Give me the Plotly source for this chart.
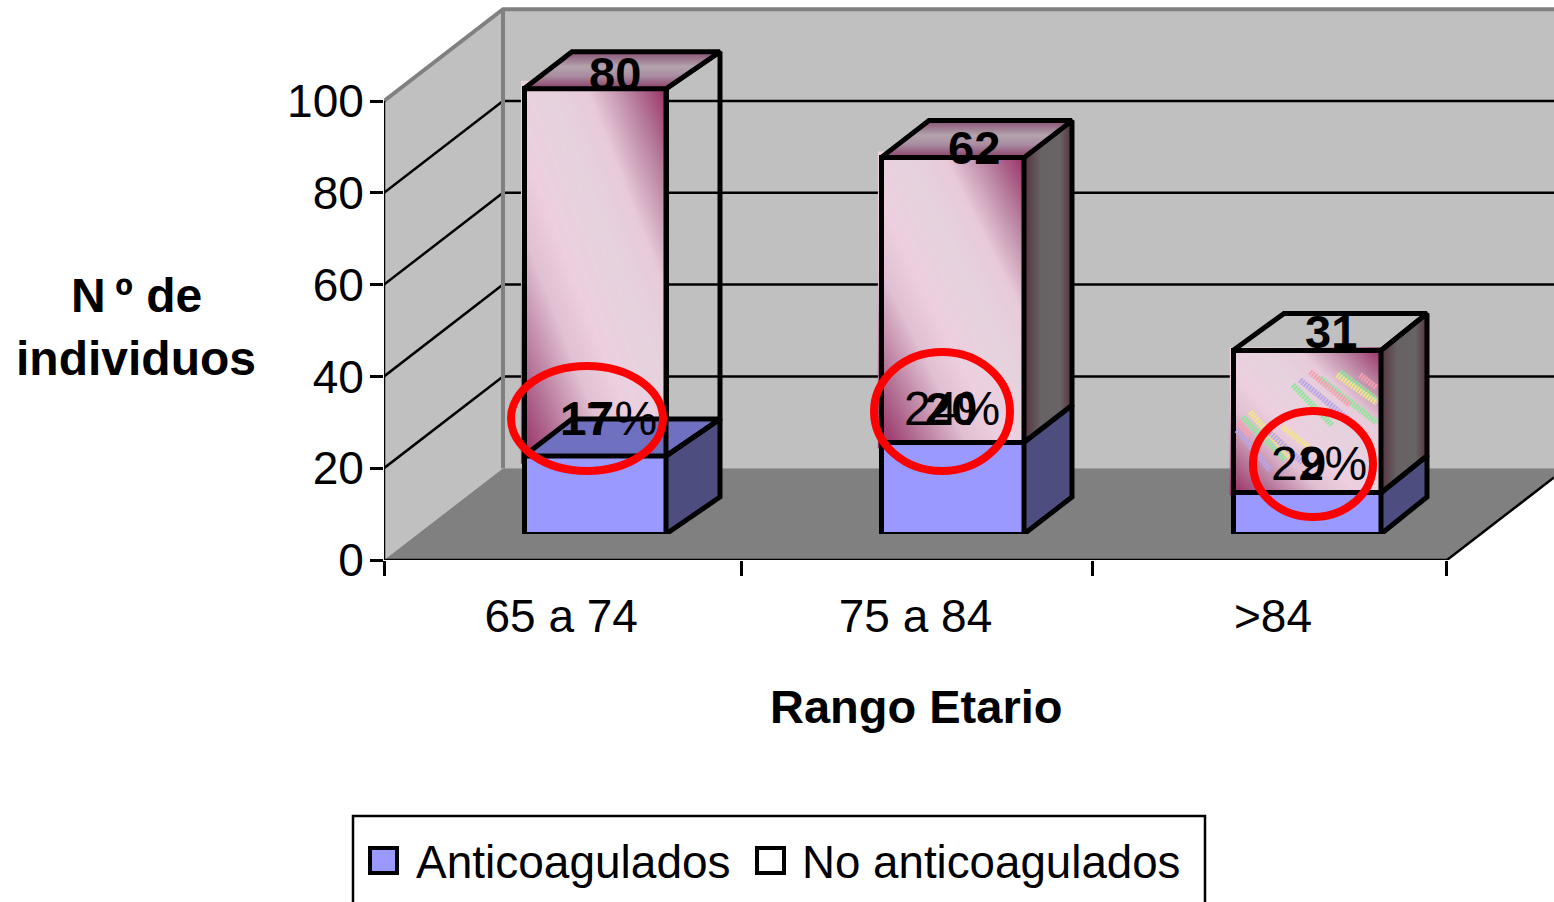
import plotly.graph_objects as go

# ---- data ----
categories = ["65 a 74", "75 a 84", ">84"]
anticoagulados = [17, 20, 9]
no_anticoagulados = [80, 62, 31]
percent_labels = ["17%", "24%", "22%"]
series_names = ["Anticoagulados", "No anticoagulados"]
y_ticks = [0, 20, 40, 60, 80, 100]
x_title = "Rango Etario"
y_title_lines = ["N\u2009º de", "individuos"]

# ---- geometry / style ----
W, H = 1554, 902
PX_X, PX_Y = 354.33, 4.59            # pixels per category / per value unit
X0, Y0 = 384, 560                    # pixel position of the axes origin
BX0, BY0 = 418, 534                  # pixel position of the origin of the plane holding the bars
WALL_DX, WALL_DY = 119 / PX_X, 20.0  # depth of the walls, in axis units
BAR_DY = 37 / PX_Y
bar_left_px = [524, 881, 1233]
bar_right_px = [666, 1024, 1381]
depth_left_px = [48, 48, 51]
depth_right_px = [54, 48, 46]
tick_edges = [0, 1.008, 2.0, 3.0]
label_positions = [0.5, 1.5, 2.509]
FONT = "Liberation Sans, Arial, sans-serif"
FS = 46
BLACK = "#000000"
BAR_LW = 5
GRID_LW = 2.5


def bx(px):
    return (px - BX0) / PX_X


def by(py):
    return (BY0 - py) / PX_Y


def mx(px):
    return (px - X0) / PX_X


def my(py):
    return (Y0 - py) / PX_Y


x_end = (W - X0) / PX_X
y_end = Y0 / PX_Y

fig = go.Figure()


def poly(xs, ys, axes="main", fill=None, line=None, lw=BAR_LW, gradient=None, name=None):
    kw = dict(x=list(xs) + [xs[0]], y=list(ys) + [ys[0]], mode="lines", showlegend=False,
              hoverinfo="skip", cliponaxis=True, name=name,
              xaxis="x" if axes == "main" else "x2", yaxis="y" if axes == "main" else "y2",
              line=dict(color=line if line else "rgba(0,0,0,0)", width=lw if line else 0))
    if gradient or fill:
        kw["fill"] = "toself"
    if fill:
        kw["fillcolor"] = fill
    if gradient:
        kw["fillgradient"] = gradient
    fig.add_trace(go.Scatter(**kw))


def seg(xs, ys, color=BLACK, lw=GRID_LW, axes="main", dash=None):
    fig.add_trace(go.Scatter(x=xs, y=ys, mode="lines", showlegend=False, hoverinfo="skip",
                             cliponaxis=False if axes == "main" else True,
                             xaxis="x" if axes == "main" else "x2", yaxis="y" if axes == "main" else "y2",
                             line=dict(color=color, width=lw, dash=dash)))


# ---- walls and floor ----
WALL = "#C0C0C0"
EDGE = "#808080"
poly([0, 0, WALL_DX, WALL_DX], [0, 100, 100 + WALL_DY, WALL_DY], fill=WALL)
poly([WALL_DX, x_end, x_end, WALL_DX], [WALL_DY, WALL_DY, 100 + WALL_DY, 100 + WALL_DY], fill=WALL)
poly([0, 3, 3 + WALL_DX, WALL_DX], [0, 0, WALL_DY, WALL_DY], fill=EDGE)

for v in y_ticks[1:-1]:
    seg([0, WALL_DX], [v, v + WALL_DY])
for v in y_ticks[1:-1]:
    seg([WALL_DX, x_end], [v + WALL_DY, v + WALL_DY])
seg([0, WALL_DX, x_end], [100, 100 + WALL_DY, 100 + WALL_DY], color=EDGE, lw=4)
seg([WALL_DX, WALL_DX], [WALL_DY, 100 + WALL_DY], color=EDGE, lw=4)
seg([0, 0], [0, 100])
seg([0, 3], [0, 0])
seg([3, x_end], [0, (x_end - 3) / WALL_DX * WALL_DY])

# ---- gradient of the front faces ----
front_scale = [[0, "#9A2F66"], [0.12, "#B06A90"], [0.3, "#E0C0D2"], [0.42, "#EDCFDF"],
               [0.58, "#E6D2DE"], [0.72, "#E8CBDB"], [0.87, "#B87F9E"], [1, "#9A2F66"]]
N = 24
for i in range(3):
    xl, xr = bx(bar_left_px[i]), bx(bar_right_px[i])
    lo, hi = anticoagulados[i], anticoagulados[i] + no_anticoagulados[i]
    gx = [xl + (xr - xl) * k / (N - 1) for k in range(N)]
    gy = [lo + (hi - lo) * k / (N - 1) for k in range(N)]
    gz = [[(a + b) / (2 * (N - 1)) for a in range(N)] for b in range(N)]
    fig.add_trace(go.Heatmap(x=gx, y=gy, z=gz, zsmooth="best", colorscale=front_scale, zmin=0, zmax=1,
                             showscale=False, hoverinfo="skip", xaxis="x2", yaxis="y2"))

# ---- stacked bars (front faces) ----
centers = [bx((l + r) / 2) for l, r in zip(bar_left_px, bar_right_px)]
widths = [(r - l) / PX_X for l, r in zip(bar_left_px, bar_right_px)]
fig.add_trace(go.Bar(x=centers, y=anticoagulados, width=widths, name=series_names[0], xaxis="x2", yaxis="y2",
                     marker=dict(color="#9999FF", line=dict(color=BLACK, width=BAR_LW)), hoverinfo="skip"))
fig.add_trace(go.Bar(x=centers, y=no_anticoagulados, width=widths, name=series_names[1], xaxis="x2", yaxis="y2",
                     marker=dict(color="rgba(0,0,0,0)", line=dict(color=BLACK, width=BAR_LW)), hoverinfo="skip"))

# ---- stray coloured streaks on the third bar ----
streaks = {
    "#8FE59A": [(1320, 378, 1377, 423), (1293, 385, 1332, 425), (1243, 417, 1285, 460), (1340, 372, 1377, 400)],
    "#F0E68C": [(1337, 375, 1377, 403), (1250, 412, 1293, 460), (1283, 427, 1308, 447)],
    "#B9A5E8": [(1300, 380, 1353, 423), (1237, 430, 1270, 470), (1270, 433, 1303, 463)],
    "#F4A0B0": [(1360, 375, 1377, 388), (1310, 372, 1350, 405), (1238, 422, 1250, 436)],
}
for col, items in streaks.items():
    sx, sy = [], []
    for a, b, c, d in items:
        sx += [bx(a), bx(c), None]
        sy += [by(b), by(d), None]
    fig.add_trace(go.Scatter(x=sx, y=sy, mode="lines", showlegend=False, hoverinfo="skip", xaxis="x2", yaxis="y2",
                             line=dict(color=col, width=6, dash="2px,1px")))

# ---- 3D faces ----
BLUE_SIDE = "#4D4D80"
BLUE_TOP = "#7070C0"
side_dark = dict(type="horizontal", colorscale=[[0, "#55333F"], [0.35, "#676264"], [0.75, "#686465"], [1, "#54303F"]])
top_grad = dict(type="vertical", colorscale=[[0, "#8A3E68"], [0.35, "#A98CA0"], [0.6, "#B3A3AD"], [1, "#874F73"]])
for i in range(3):
    xl, xr = bx(bar_left_px[i]), bx(bar_right_px[i])
    dl, dr = depth_left_px[i] / PX_X, depth_right_px[i] / PX_X
    lo = anticoagulados[i]
    hi = lo + no_anticoagulados[i]
    poly([xr, xr, xr + dr, xr + dr], [0, lo, lo + BAR_DY, BAR_DY], axes="bars", fill=BLUE_SIDE, line=BLACK)
    if i == 0:
        poly([xl, xr, xr + dr, xl + dl], [lo, lo, lo + BAR_DY, lo + BAR_DY], axes="bars", fill=BLUE_TOP, line=BLACK)
    if i == 0:
        poly([xr, xr, xr + dr, xr + dr], [lo, hi, hi + BAR_DY, lo + BAR_DY], axes="bars", line=BLACK)
    else:
        poly([xr, xr, xr + dr, xr + dr], [lo, hi, hi + BAR_DY, lo + BAR_DY], axes="bars", gradient=side_dark, line=BLACK)
    if i < 2:
        poly([xl, xr, xr + dr, xl + dl], [hi, hi, hi + BAR_DY, hi + BAR_DY], axes="bars", gradient=top_grad, line=BLACK)
    else:
        poly([xl, xr, xr + dr, xl + dl], [hi, hi, hi + BAR_DY, hi + BAR_DY], axes="bars", line=BLACK)


# ---- annotations ----
annotations = []


def text(x, y, t, xref="paper", yref="paper", bold=False, size=FS, xshift=0, yshift=0, xanchor="center", color=BLACK):
    annotations.append(dict(x=x, y=y, xref=xref, yref=yref, text=f"<b>{t}</b>" if bold else t, showarrow=False,
                            xanchor=xanchor, yanchor="middle", xshift=xshift, yshift=yshift,
                            font=dict(family=FONT, size=size, color=color)))


def px(x):
    return x / W


def py(y):
    return 1 - y / H


# labels: offsets in pixels from the bar centre / stack level
total_shift = [(20, 15), (21, 10), (24, 19)]
low_shift = [(-9, 37), (-2, 34), (6, 30)]
pct_shift = [(14, 37), (-1, 34), (12, 29)]
for i in range(3):
    lo = anticoagulados[i]
    hi = lo + no_anticoagulados[i]
    text(centers[i], lo, percent_labels[i], "x2", "y2", size=48, xshift=pct_shift[i][0], yshift=pct_shift[i][1])
    text(centers[i], lo, str(lo), "x2", "y2", bold=True, size=47, xshift=low_shift[i][0], yshift=low_shift[i][1])
    text(centers[i], hi, str(no_anticoagulados[i]), "x2", "y2", bold=True, size=47,
         xshift=total_shift[i][0], yshift=total_shift[i][1])

text(px(916), py(706), x_title, bold=True, size=47)
text(px(136), py(295), y_title_lines[0], bold=True, size=48)
text(px(136), py(359), y_title_lines[1], bold=True, size=48)

# legend
text(px(414), py(862), series_names[0], xanchor="left")
text(px(800), py(862), series_names[1], xanchor="left", size=45.7)

shapes = [
    dict(type="rect", xref="paper", yref="paper", x0=px(353), x1=px(1205), y0=py(816), y1=py(912),
         line=dict(color=BLACK, width=2.5), fillcolor="rgba(0,0,0,0)"),
    dict(type="rect", xref="paper", yref="paper", x0=px(370), x1=px(397), y0=py(848), y1=py(873),
         line=dict(color=BLACK, width=4), fillcolor="#9999FF"),
    dict(type="rect", xref="paper", yref="paper", x0=px(757), x1=px(784), y0=py(848), y1=py(873),
         line=dict(color=BLACK, width=4), fillcolor="#FFFFFF"),
]
# red call-out rings
rings = [(511, 663, 366, 471), (874, 1010, 352, 471), (1253, 1373, 411, 517)]
for a, b, c, d in rings:
    shapes.append(dict(type="circle", xref="x", yref="y", x0=mx(a), x1=mx(b), y0=my(c), y1=my(d),
                       line=dict(color="#FF0000", width=8), fillcolor="rgba(0,0,0,0)", layer="above"))

fig.update_layout(
    template="none",
    width=W, height=H, autosize=False,
    margin=dict(l=0, r=0, t=0, b=0, pad=0),
    paper_bgcolor="#FFFFFF", plot_bgcolor="rgba(0,0,0,0)",
    barmode="stack", showlegend=False,
    font=dict(family=FONT, size=FS, color=BLACK),
    annotations=annotations, shapes=shapes,
    xaxis=dict(domain=[X0 / W, 1], range=[0, x_end], anchor="y", showgrid=False, zeroline=False, showline=False,
               automargin=False,
               tickmode="array", tickvals=label_positions, ticktext=categories,
               ticks="outside", ticklen=16, tickcolor="rgba(0,0,0,0)", tickwidth=1,
               tickfont=dict(family=FONT, size=FS, color=BLACK),
               minor=dict(tickmode="array", tickvals=tick_edges, ticks="outside", ticklen=15, tickwidth=GRID_LW,
                          tickcolor=BLACK, showgrid=False)),
    yaxis=dict(domain=[1 - Y0 / H, 1], range=[0, y_end], anchor="x", showgrid=False, zeroline=False, showline=False,
               automargin=False,
               tickmode="array", tickvals=y_ticks, ticks="outside", ticklen=13, tickwidth=GRID_LW, tickcolor=BLACK,
               ticklabelstandoff=-3,
               tickfont=dict(family=FONT, size=FS, color=BLACK)),
    xaxis2=dict(domain=[BX0 / W, 1], range=[0, (W - BX0) / PX_X], anchor="y2", visible=False, automargin=False),
    yaxis2=dict(domain=[1 - BY0 / H, 1], range=[0, BY0 / PX_Y], anchor="x2", visible=False, automargin=False),
)

fig.write_html("out.html", config=dict(displayModeBar=False),
               post_script="document.body.style.margin='0';document.body.style.overflow='hidden';")
